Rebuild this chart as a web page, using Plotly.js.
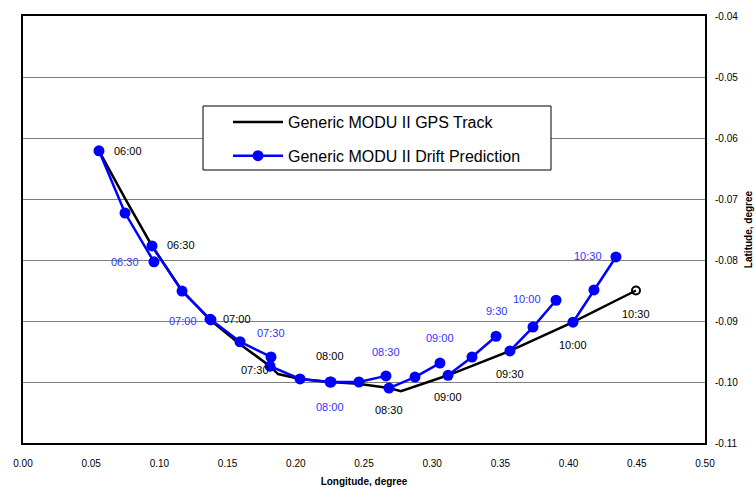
<!DOCTYPE html>
<html>
<head>
<meta charset="utf-8">
<script src="https://cdn.plot.ly/plotly-3.0.1.min.js"></script>
<style>
  html, body { margin: 0; padding: 0; background: #fff; }
  #chart { width: 756px; height: 487px; }
</style>
</head>
<body>
<div id="chart"></div>
<script>
// Observed rig track (GPS), with half-hour time stamps
const gpsLon = [0.0557, 0.0755, 0.0946, 0.1158, 0.1371, 0.1591, 0.1811, 0.1870, 0.2031,
                0.2251, 0.2456, 0.2683, 0.2771, 0.3116, 0.3570, 0.4032, 0.4494];
const gpsLat = [-0.0621, -0.0702, -0.0777, -0.0848, -0.0898, -0.0938, -0.0974, -0.0987, -0.0995,
                -0.1000, -0.1003, -0.1010, -0.1015, -0.0989, -0.0949, -0.0902, -0.0850];
const gpsTime = ['06:00', '', '06:30', '', '07:00', '', '07:30', '', '',
                 '08:00', '', '08:30', '', '09:00', '09:30', '10:00', '10:30'];

// 30-minute drift forecasts, each restarted from the GPS fix (null separates runs)
const predLon = [0.0557, 0.0748, 0.0960, null,
                 0.0946, 0.1166, 0.1371, null,
                 0.1378, 0.1591, 0.1818, null,
                 0.1811, 0.2031, 0.2251, null,
                 0.2258, 0.2463, 0.2661, null,
                 0.2683, 0.2874, 0.3057, null,
                 0.3116, 0.3292, 0.3468, null,
                 0.3570, 0.3739, 0.3908, null,
                 0.4032, 0.4186, 0.4347];
const predLat = [-0.0621, -0.0723, -0.0803, null,
                 -0.0777, -0.0851, -0.0897, null,
                 -0.0898, -0.0934, -0.0959, null,
                 -0.0974, -0.0995, -0.1000, null,
                 -0.1000, -0.1000, -0.0990, null,
                 -0.1010, -0.0992, -0.0969, null,
                 -0.0989, -0.0959, -0.0925, null,
                 -0.0949, -0.0910, -0.0866, null,
                 -0.0902, -0.0849, -0.0795];
const predTime = ['', '', '06:30', '',
                  '', '', '07:00', '',
                  '', '', '07:30', '',
                  '', '', '08:00', '',
                  '', '', '08:30', '',
                  '', '', '09:00', '',
                  '', '', '9:30', '',
                  '', '', '10:00', '',
                  '', '', '10:30'];

const xTickVals = [0, 0.05, 0.10, 0.15, 0.20, 0.25, 0.30, 0.35, 0.40, 0.45, 0.50];
const xTickText = ['0.00', '0.05', '0.10', '0.15', '0.20', '0.25', '0.30', '0.35', '0.40', '0.45', '0.50'];
const yTickVals = [-0.11, -0.10, -0.09, -0.08, -0.07, -0.06, -0.05, -0.04];
const yTickText = ['-0.11', '-0.10', '-0.09', '-0.08', '-0.07', '-0.06', '-0.05', '-0.04'];

const FONT = 'Liberation Sans, Arial, sans-serif';

// label placement around each time stamp (pixels)
const gpsLabelShift = {
  '06:00': [29, 0], '06:30': [29, 1], '07:00': [27, 1], '07:30': [-15, -4],
  '08:00': [0, 26], '08:30': [0, -22], '09:00': [0, -22], '09:30': [0, -23],
  '10:00': [0, -23], '10:30': [0, -23]
};
const predLabelShift = {
  '06:30': [-29, 0], '07:00': [-27, -2], '07:30': [0, 24], '08:00': [0, -25],
  '08:30': [0, 24], '09:00': [0, 25], '9:30': [0, 25], '10:00': [-29, 1], '10:30': [-28, 1]
};

const annotations = [];
gpsTime.forEach((t, i) => {
  if (!t) return;
  const s = gpsLabelShift[t] || [0, 0];
  annotations.push({
    x: gpsLon[i], y: gpsLat[i], xref: 'x', yref: 'y', text: t, showarrow: false,
    xanchor: 'center', yanchor: 'middle', xshift: s[0], yshift: s[1],
    font: { family: FONT, size: 11, color: '#000000' }
  });
});
predTime.forEach((t, i) => {
  if (!t) return;
  const s = predLabelShift[t] || [0, 0];
  annotations.push({
    x: predLon[i], y: predLat[i], xref: 'x', yref: 'y', text: t, showarrow: false,
    xanchor: 'center', yanchor: 'middle', xshift: s[0], yshift: s[1],
    font: { family: FONT, size: 11, color: '#3333FF' }
  });
});

const last = gpsLon.length - 1;
const traces = [
  {
    x: gpsLon, y: gpsLat, type: 'scatter', mode: 'lines',
    name: 'Generic MODU II GPS Track', legendgroup: 'gps',
    line: { color: '#000000', width: 2.5 }
  },
  {
    x: [gpsLon[last]], y: [gpsLat[last]], type: 'scatter', mode: 'markers',
    showlegend: false, hoverinfo: 'skip',
    marker: { symbol: 'circle-open', size: 8, color: '#000000', line: { width: 2, color: '#000000' } }
  },
  {
    x: predLon, y: predLat, type: 'scatter', mode: 'lines+markers',
    name: 'Generic MODU II Drift Prediction', legendgroup: 'pred', connectgaps: false,
    line: { color: '#0000FF', width: 2.5 },
    marker: { color: '#0000FF', size: 11, symbol: 'circle' }
  }
];

const L = 23, R = 705, T = 16, B = 443;
const px = v => (v - L) / (R - L);
const py = v => (B - v) / (B - T);

const layout = {
  width: 756, height: 487,
  margin: { l: L, r: 756 - R, t: T, b: 487 - B },
  paper_bgcolor: '#ffffff', plot_bgcolor: '#ffffff',
  font: { family: FONT, size: 10, color: '#000000' },
  showlegend: true,
  legend: {
    x: px(228), y: py(105), xanchor: 'left', yanchor: 'top',
    bgcolor: 'rgba(0,0,0,0)', borderwidth: 0,
    font: { family: FONT, size: 16, color: '#000000' },
    itemwidth: 50, tracegroupgap: 10
  },
  xaxis: {
    range: [0, 0.5], tickvals: xTickVals, ticktext: xTickText,
    showgrid: false, zeroline: false, showline: true, mirror: true,
    linecolor: '#000000', linewidth: 2, ticks: '', ticklabelstandoff: 10,
    tickfont: { family: FONT, size: 10 },
    title: { text: 'Longitude, degree', standoff: 11, font: { family: FONT, size: 10, weight: 'bold' } }
  },
  xaxis2: {
    range: [0, 0.5], overlaying: 'x', matches: 'x', side: 'top', anchor: 'y',
    tickvals: xTickVals, showticklabels: false, ticks: 'inside', ticklen: 4,
    tickcolor: '#000000', showgrid: false, zeroline: false, showline: false
  },
  yaxis: {
    range: [-0.11, -0.04], side: 'right', tickvals: yTickVals, ticktext: yTickText,
    showgrid: true, gridcolor: '#808080', gridwidth: 1, zeroline: false,
    showline: true, mirror: true, linecolor: '#000000', linewidth: 2,
    ticks: '', ticklabelstandoff: 6,
    tickfont: { family: FONT, size: 10 },
    title: { text: 'Latitude, degree', standoff: 8, font: { family: FONT, size: 10, weight: 'bold' } }
  },
  yaxis2: {
    range: [-0.11, -0.04], overlaying: 'y', matches: 'y', side: 'left', anchor: 'x',
    tickvals: yTickVals, showticklabels: false, ticks: 'outside', ticklen: 5,
    tickcolor: '#000000', showgrid: false, zeroline: false, showline: false
  },
  shapes: [{
    type: 'rect', xref: 'paper', yref: 'paper', layer: 'above',
    x0: px(203), x1: px(551), y0: py(170), y1: py(106),
    line: { color: '#000000', width: 1 }, fillcolor: '#ffffff'
  }],
  annotations: annotations
};

Plotly.newPlot('chart', traces, layout, { staticPlot: true, displayModeBar: false });
</script>
</body>
</html>
